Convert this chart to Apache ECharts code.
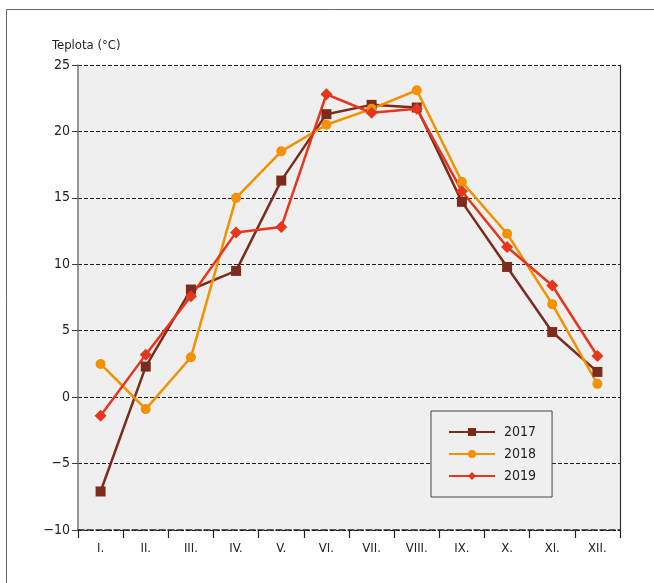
<!DOCTYPE html>
<html><head><meta charset="utf-8">
<script src="https://cdn.jsdelivr.net/npm/echarts@6/dist/echarts.min.js"></script>
<style>html,body{margin:0;padding:0;background:#fff}#c{width:654px;height:583px}</style>
</head><body><div id="c"></div>
<script>
const months = ['I.','II.','III.','IV.','V.','VI.','VII.','VIII.','IX.','X.','XI.','XII.'];
const s2017 = [-7.1, 2.3, 8.1, 9.5, 16.3, 21.3, 22.0, 21.8, 14.7, 9.8, 4.9, 1.9];
const s2018 = [2.5, -0.9, 3.0, 15.0, 18.5, 20.5, 21.7, 23.1, 16.2, 12.3, 7.0, 1.0];
const s2019 = [-1.4, 3.2, 7.6, 12.4, 12.8, 22.8, 21.4, 21.7, 15.5, 11.3, 8.4, 3.1];
const yTitle = 'Teplota (°C)';

const FONT = '"Liberation Sans Narrow","DejaVu Sans Condensed","Arial Narrow",sans-serif';
const chart = echarts.init(document.getElementById('c'), null, {renderer:'canvas'});
function mk(name, data, color, symbol, size){
  return {name, type:'line', data, color, symbol, symbolSize:size, showSymbol:true,
    lineStyle:{width:2.5, color}, itemStyle:{color}, z:3};
}
chart.setOption({
  animation:false,
  textStyle:{fontFamily:FONT},
  graphic:[
    {type:'rect', shape:{x:6.5,y:9.5,width:700,height:700}, style:{fill:null, stroke:'#666', lineWidth:1}, z:-10},
    {type:'text', left:52, top:39, style:{text:yTitle, font:'13px '+FONT, fill:'#222'}}
  ],
  grid:{left:78, right:34, top:65, bottom:53, show:true, backgroundColor:'#eeefee', borderWidth:0},
  legend:{
    orient:'vertical', left:431, top:411,
    padding:[14,16,14,17], itemGap:8, itemWidth:46, itemHeight:10,
    borderColor:'#444', borderWidth:1, backgroundColor:'#eeefee',
    textStyle:{fontSize:14, lineHeight:14, color:'#222', fontFamily:FONT, padding:[0,0,0,4]},
    data:['2017','2018','2019']
  },
  xAxis:{
    type:'category', data:months, boundaryGap:true,
    axisLine:{onZero:false, lineStyle:{color:'#222', width:1.5, type:'dashed'}},
    axisTick:{show:true, alignWithLabel:false, length:8, lineStyle:{color:'#222', width:1.2}},
    axisLabel:{fontSize:13, color:'#222', margin:12, fontFamily:FONT},
    splitLine:{show:false}
  },
  yAxis:[{
    type:'value', min:-10, max:25, interval:5,
    axisLine:{show:true, lineStyle:{color:'#777', width:1.5}},
    axisTick:{show:true, length:6, lineStyle:{color:'#444'}},
    axisLabel:{fontSize:14, color:'#222', margin:8, fontFamily:FONT,
      formatter:v=>String(v).replace('-','\u2212')},
    splitLine:{show:true, lineStyle:{color:'#222', type:[4,2], width:1}}
  },{
    type:'value', min:-10, max:25, interval:5, position:'right',
    axisLine:{show:true, lineStyle:{color:'#333', width:1.2}},
    axisTick:{show:false}, axisLabel:{show:false}, splitLine:{show:false}
  }],
  series:[
    mk('2017', s2017, '#7b2c1c', 'rect', 10),
    mk('2018', s2018, '#f39200', 'circle', 10),
    mk('2019', s2019, '#e6361c', 'diamond', 12)
  ]
});
</script></body></html>
